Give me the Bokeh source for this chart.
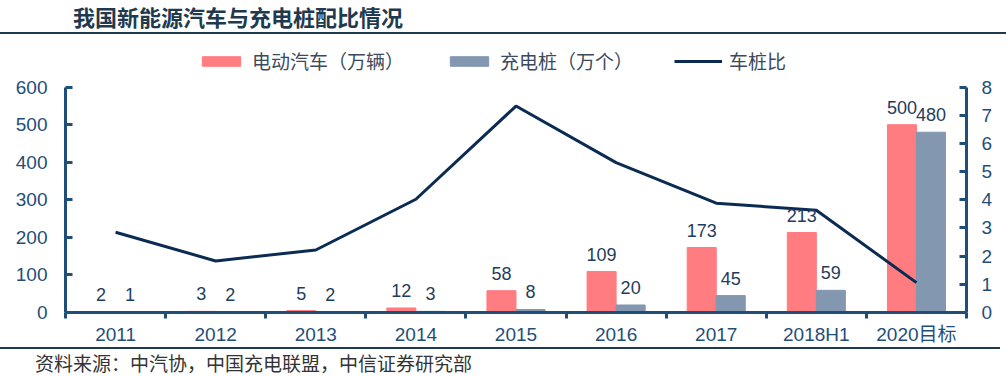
from bokeh.plotting import figure
from bokeh.models import (Range1d, LinearAxis, FixedTicker, ColumnDataSource, Legend, LegendItem, Div)
from bokeh.layouts import column
from bokeh.embed import file_html
from bokeh.resources import INLINE
from bokeh.core.properties import value

categories = ["2011", "2012", "2013", "2014", "2015", "2016", "2017", "2018H1", "2020目标"]
ev = [2, 3, 5, 12, 58, 109, 173, 213, 500]
piles = [1, 2, 2, 3, 8, 20, 45, 59, 480]
ratio = [2.85, 1.83, 2.22, 4.02, 7.33, 5.32, 3.88, 3.63, 1.06]
left_ticks = [0, 100, 200, 300, 400, 500, 600]
right_ticks = [0, 1, 2, 3, 4, 5, 6, 7, 8]

RED = "#ff7c80"
BLUE = "#8497b0"
NAVY = "#0a2b52"
AXIS = "#1f4e79"
TXT = "#1f3d5c"
FONT = "'Liberation Sans', 'Noto Sans CJK SC'"
CJK = "'Noto Sans CJK SC'"

# frame spans page y 40..314; axis value range 0..600 covers 227 px of it
FRAME_H = 274
AX_H = 227
ymax_l = 600 * FRAME_H / AX_H
ymax_r = 8 * FRAME_H / AX_H

xc = [i + 0.5 for i in range(len(categories))]
src = ColumnDataSource(dict(
    x=xc,
    xr=[v - 0.145 for v in xc],
    xb=[v + 0.145 for v in xc],
    ev=ev, piles=piles, ratio=ratio,
    evt=[str(v) for v in ev], pt=[str(v) for v in piles],
))

p = figure(width=1006, height=313, x_range=Range1d(0, 9), y_range=Range1d(0, ymax_l),
           output_backend="svg", toolbar_location=None,
           min_border_left=65, min_border_right=40, min_border_top=6, min_border_bottom=33)
p.outline_line_color = None
p.grid.visible = False
p.background_fill_color = "white"
p.border_fill_color = "white"
p.extra_y_ranges = {"r": Range1d(0, ymax_r)}

r1 = p.vbar(x="xr", top="ev", width=0.29, color=RED, source=src)
r2 = p.vbar(x="xb", top="piles", width=0.29, color=BLUE, source=src)
r3 = p.line(x="x", y="ratio", line_color=NAVY, line_width=3, y_range_name="r", source=src)

p.text(x="xr", y="ev", text="evt", source=src, text_align="center", text_baseline="bottom",
       y_offset=-11, text_font=value(FONT), text_font_size="18px", text_color=TXT)
p.text(x="xb", y="piles", text="pt", source=src, text_align="center", text_baseline="bottom",
       y_offset=-11, text_font=value(FONT), text_font_size="18px", text_color=TXT)

def style_axis(ax):
    ax.axis_line_color = AXIS
    ax.axis_line_width = 3
    ax.major_tick_line_color = AXIS
    ax.major_tick_line_width = 3
    ax.minor_tick_line_color = AXIS
    ax.minor_tick_line_width = 3
    ax.major_label_text_font = FONT
    ax.major_label_text_font_size = "19px"
    ax.major_label_text_color = AXIS

ly = p.yaxis[0]
style_axis(ly)
ly.ticker = FixedTicker(ticks=left_ticks)
ly.bounds = (0, 600)
ly.major_tick_in = 7
ly.major_tick_out = 0
ly.minor_tick_in = 0
ly.minor_tick_out = 0
ly.major_label_standoff = 18

ry = LinearAxis(y_range_name="r", ticker=FixedTicker(ticks=right_ticks), bounds=(0, 8))
style_axis(ry)
ry.major_tick_in = 7
ry.major_tick_out = 0
ry.minor_tick_in = 0
ry.minor_tick_out = 0
ry.major_label_standoff = 15
p.add_layout(ry, "right")

xa = p.xaxis[0]
style_axis(xa)
xa.ticker = FixedTicker(ticks=xc, minor_ticks=list(range(10)))
xa.major_label_overrides = {v: c for v, c in zip(xc, categories)}
xa.major_tick_in = 0
xa.major_tick_out = 0
xa.minor_tick_in = 0
xa.minor_tick_out = 6
xa.major_label_standoff = 5

legend = Legend(items=[LegendItem(label="电动汽车（万辆）", renderers=[r1]),
                       LegendItem(label="充电桩（万个）", renderers=[r2]),
                       LegendItem(label="车桩比", renderers=[r3])],
                orientation="horizontal", location=(132, 238))
legend.label_text_font = CJK
legend.label_text_font_size = "19px"
legend.label_text_color = "#3b4a5c"
legend.glyph_width = 48
legend.glyph_height = 12
legend.spacing = 41
legend.label_standoff = 7
legend.background_fill_alpha = 0
legend.border_line_color = None
legend.padding = 0
legend.margin = 0
p.add_layout(legend, "center")

title = Div(text="我国新能源汽车与充电桩配比情况", width=1006, height=34, margin=(0, 0, 0, 0),
            styles={"font-family": CJK, "font-size": "22px", "font-weight": "bold",
                    "color": "#1f3a4f", "padding-left": "73px", "box-sizing": "border-box",
                    "border-bottom": "2px solid #1f3a4f", "line-height": "32px",
                    "width": "1006px", "height": "34px"})
foot = Div(text="资料来源：中汽协，中国充电联盟，中信证券研究部", width=1006, height=29, margin=(0, 0, 0, 0),
           styles={"font-family": CJK, "font-size": "19px", "color": "#333333",
                   "padding-left": "35px", "box-sizing": "border-box",
                   "border-top": "2px solid #1f3a4f", "line-height": "27px",
                   "width": "1000px", "height": "29px"})

layout = column(title, p, foot, spacing=0, margin=(0, 0, 0, 0))
open("out.html", "w").write(file_html(layout, INLINE))
